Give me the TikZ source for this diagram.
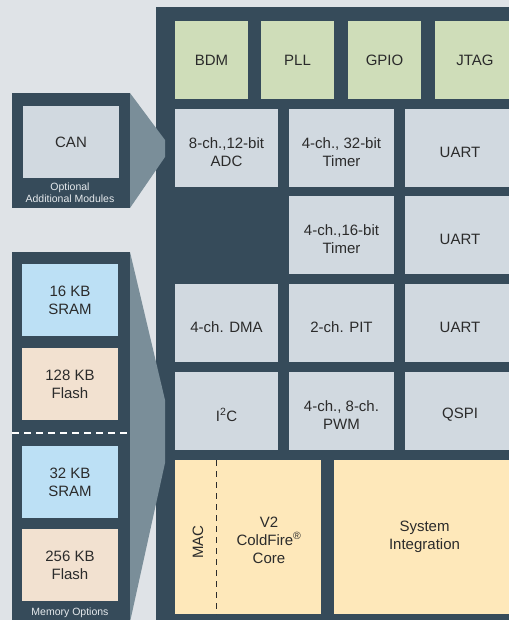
\documentclass[tikz,border=0pt]{standalone}
\usepackage{fontspec}
\setmainfont{Liberation Sans}
\definecolor{bgc}{HTML}{DFE3E7}
\definecolor{dark}{HTML}{364B5A}
\definecolor{grn}{HTML}{CFDDB9}
\definecolor{gbox}{HTML}{D1D9E0}
\definecolor{blu}{HTML}{BCE0F5}
\definecolor{pch}{HTML}{F2E1D0}
\definecolor{yel}{HTML}{FEE8BA}
\definecolor{fun}{HTML}{7A8E99}
\definecolor{txt}{HTML}{2B2B2B}
\definecolor{smalltxt}{HTML}{E6EAED}
\begin{document}
\begin{tikzpicture}[x=1pt,y=-1pt,
  blk/.style={anchor=north west, inner sep=0pt, outer sep=0pt, align=center,
    font=\fontsize{15}{18}\selectfont, text=txt},
  lbl/.style={inner sep=0pt, align=center, font=\fontsize{15}{18}\selectfont, text=txt, yshift=-4pt},
  tl/.style={label={[lbl]center:{#1}}},
  panel/.style={anchor=north west, inner sep=0pt, outer sep=0pt, fill=dark},
  small/.style={inner sep=0pt, align=center, font=\fontsize{10.5}{11.5}\selectfont, text=smalltxt},
  r1/.style={minimum height=78pt},
  r6/.style={minimum height=154pt}
]
\useasboundingbox (0,0) rectangle (508,620);
\fill[bgc] (-5,-5) rectangle (515,625);

% main block
\node[panel, minimum width=370pt, minimum height=630pt] (main) at (156,7) {};

% row 1
\node[blk, fill=grn, r1, minimum width=73pt] (bdm) at (175,21) {BDM};
\node[blk, fill=grn, r1, minimum width=73pt] (pll) at (261,21) {PLL};
\node[blk, fill=grn, r1, minimum width=73pt] (gpio) at (348,21) {GPIO};
\node[blk, fill=grn, r1, minimum width=80pt] (jtag) at (435,21) {JTAG};

% row 2
\node[blk, fill=gbox, r1, minimum width=103pt, tl={8-ch.,12-bit\\ADC}] (adc) at (175,109) {};
\node[blk, fill=gbox, r1, minimum width=105pt, tl={4-ch., 32-bit\\Timer}] (tmr32) at (289,109) {};
\node[blk, fill=gbox, r1, minimum width=110pt, tl={UART}] (uart1) at (405,109) {};

% row 3
\node[blk, fill=gbox, r1, minimum width=105pt, tl={4-ch.,16-bit\\Timer}] (tmr16) at (289,196) {};
\node[blk, fill=gbox, r1, minimum width=110pt, tl={UART}] (uart2) at (405,196) {};

% row 4
\node[blk, fill=gbox, r1, minimum width=103pt, tl={4-ch. DMA}] (dma) at (175,284) {};
\node[blk, fill=gbox, r1, minimum width=105pt, tl={2-ch. PIT}] (pit) at (289,284) {};
\node[blk, fill=gbox, r1, minimum width=110pt, tl={UART}] (uart3) at (405,284) {};

% row 5
\node[blk, fill=gbox, r1, minimum width=103pt, tl={I\textsuperscript{2}C}] (iic) at (175,372) {};
\node[blk, fill=gbox, r1, minimum width=105pt, tl={4-ch., 8-ch.\\PWM}] (pwm) at (289,372) {};
\node[blk, fill=gbox, r1, minimum width=110pt, tl={QSPI}] (qspi) at (405,372) {};

% row 6
\node[blk, fill=yel, r6, minimum width=146pt] (core) at (175,460) {};
\node[blk, fill=yel, r6, minimum width=190pt] (sysint) at (334,460) {};
\node[blk, anchor=center] (systxt) at (424.5,537) {System\\Integration};
\coordinate (mactop) at (216,460);
\coordinate (macbot) at (216,614);
\draw[txt, line width=1pt, dash pattern=on 6pt off 5pt] (mactop) -- (macbot);
\node[blk, anchor=center, rotate=90] (mac) at (198,542) {MAC};
\node[blk, anchor=center] (coretxt) at (269,540) {V2\\ColdFire\textsuperscript{\textregistered}\\Core};

% CAN panel
\node[panel, minimum width=118pt, minimum height=115pt] (canp) at (12,93) {};
\node[blk, fill=gbox, minimum width=96pt, minimum height=72pt] (can) at (23,106) {CAN};
\node[small] (opt) at (70,192.5) {Optional\\Additional Modules};
\coordinate (cf1) at (165,140);
\coordinate (cf2) at (165,157);
\fill[fun] (canp.north east) -- (cf1) -- (cf2) -- (canp.south east) -- cycle;

% Memory panel
\node[panel, minimum width=118pt, minimum height=380pt] (memp) at (12,252) {};
\node[blk, fill=blu, minimum width=96pt, minimum height=72pt] (sram16) at (22,264) {16 KB\\SRAM};
\node[blk, fill=pch, minimum width=96pt, minimum height=72pt] (fl128) at (22,348) {128 KB\\Flash};
\node[blk, fill=blu, minimum width=96pt, minimum height=72pt] (sram32) at (22,446) {32 KB\\SRAM};
\node[blk, fill=pch, minimum width=96pt, minimum height=72pt] (fl256) at (22,529) {256 KB\\Flash};
\coordinate (dl) at (12,433);
\coordinate (dr) at (130,433);
\draw[white, line width=1.3pt, dash pattern=on 7pt off 5pt] (dl) -- (dr);
\node[small] (memopt) at (70,613) {Memory Options};
\coordinate (mf1) at (165,400);
\coordinate (mf2) at (165,463);
\coordinate (mf3) at (130,622);
\fill[fun] (memp.north east) -- (mf1) -- (mf2) -- (mf3) -- cycle;
\end{tikzpicture}
\end{document}
